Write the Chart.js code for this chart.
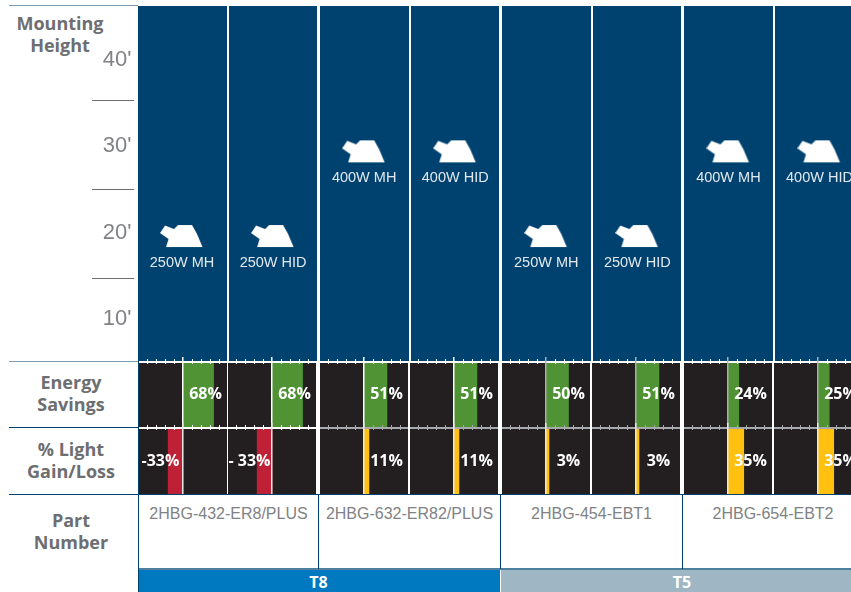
<!DOCTYPE html>
<html>
<head>
<meta charset="utf-8">
<script src="https://cdn.jsdelivr.net/npm/chart.js@4"></script>
<style>
  html, body { margin: 0; background: #fff; }
  body { width: 851px; height: 592px; overflow: hidden; position: relative; font-family: "Open Sans", sans-serif; }
  canvas, .box, .head, .part, .band { position: absolute; }
  .head { color: #6d6e71; font-weight: 700; font-size: 18px; line-height: 22px; text-align: center; width: 130px; }
  .part { color: #808285; font: 16px "Liberation Sans", sans-serif; text-align: center; }
  .band { height: 22px; line-height: 25px; color: #fff; font-weight: 700; font-size: 16px; text-align: center; }
</style>
</head>
<body>
<script>
var fixtureLabels = ['250W MH', '250W HID', '400W MH', '400W HID', '250W MH', '250W HID', '400W MH', '400W HID'];
var mountHeights = [19.6, 19.6, 29.4, 29.4, 19.6, 19.6, 29.4, 29.4];
var heightTicks = [10, 20, 30, 40];
var heightDividers = [35.3, 25, 14.7];
var energySavings = [68, 68, 51, 51, 50, 51, 24, 25];
var lightChange = [-33, -33, 11, 11, 3, 3, 35, 35];
var lightLabels = ['-33%', '- 33%', '11%', '11%', '3%', '3%', '35%', '35%'];
var percentTicks = [-80, -60, -40, -20, 0, 20, 40, 60, 80];
var partNumbers = ['2HBG-432-ER8/PLUS', '2HBG-632-ER82/PLUS', '2HBG-454-EBT1', '2HBG-654-EBT2'];
var lampTypes = ['T8', 'T5'];

var cellLefts = [139, 228, 320, 410, 502, 592, 684, 774];
var partEdges = [139, 319, 501, 683, 864];
var bandEdges = [139, 501, 866];
var bandColors = ['#0079c1', '#9fb6c4'];

function addBox(x, y, w, h, color) {
  var d = document.createElement('div');
  d.className = 'box';
  d.style.cssText = 'left:' + x + 'px;top:' + y + 'px;width:' + w + 'px;height:' + h + 'px;background:' + color;
  document.body.appendChild(d);
}

function addText(cls, x, y, w, html) {
  var d = document.createElement('div');
  d.className = cls;
  d.style.left = x + 'px';
  d.style.top = y + 'px';
  if (w) d.style.width = w + 'px';
  d.innerHTML = html;
  document.body.appendChild(d);
}

function addCanvas(x, y, w, h) {
  var c = document.createElement('canvas');
  c.width = w;
  c.height = h;
  c.style.left = x + 'px';
  c.style.top = y + 'px';
  c.style.width = w + 'px';
  c.style.height = h + 'px';
  document.body.appendChild(c);
  return c;
}

// table furniture
addBox(138, 6, 730, 355, '#00426f');
addBox(9, 5, 129, 1, '#7d9cb3');
addBox(9, 361, 129, 1, '#7d9cb3');
addBox(9, 427, 129, 1, '#00426f');
addBox(9, 494, 842, 1, '#00426f');
addBox(138, 361, 1, 231, '#00426f');
addBox(139, 568, 712, 2, '#4f7f9f');

addText('head', -5, 12, 0, 'Mounting<br>Height');
addText('head', 6, 371, 0, 'Energy<br>Savings');
addText('head', 6, 438, 0, '% Light<br>Gain/Loss');
addText('head', 6, 509, 0, 'Part<br>Number');

partNumbers.forEach(function(p, i) {
  addText('part', partEdges[i], 505, partEdges[i + 1] - partEdges[i] - 1, p);
  if (i > 0) addBox(partEdges[i] - 1, 495, 1, 74, '#00426f');
});

lampTypes.forEach(function(t, i) {
  addBox(bandEdges[i], 570, bandEdges[i + 1] - bandEdges[i] - (i == 0 ? 1 : 0), 22, bandColors[i]);
  addText('band', bandEdges[i], 570, i == 0 ? 359 : 362, t);
});

// fixture icon used as the point style
var icon = document.createElement('canvas');
icon.width = 44;
icon.height = 24;
var ic = icon.getContext('2d');
var iconShape = [[0, 9], [5, 1.5], [14, 5], [18, 1], [32, 1], [37, 10], [42.5, 23], [6, 23], [8.5, 15]];
ic.fillStyle = '#fff';
ic.beginPath();
iconShape.forEach(function(p, i) {
  if (i == 0) ic.moveTo(p[0], p[1]); else ic.lineTo(p[0], p[1]);
});
ic.closePath();
ic.fill();

var fixtureText = {
  id: 'fixtureText',
  afterDatasetsDraw: function(chart) {
    var c = chart.ctx, meta = chart.getDatasetMeta(0), y = chart.scales.y;
    c.save();
    c.fillStyle = '#e1e8ee';
    c.font = '14.5px "Liberation Sans"';
    c.textAlign = 'center';
    c.textBaseline = 'middle';
    meta.data.forEach(function(pt, i) {
      c.fillText(fixtureLabels[i], pt.x, pt.y + 27);
    });
    // short dividers between the height labels
    c.fillStyle = '#6d6e71';
    heightDividers.forEach(function(h) {
      c.fillRect(92, Math.round(y.getPixelForValue(h)), 42, 1);
    });
    c.restore();
  }
};

new Chart(addCanvas(0, 0, 865, 361), {
  type: 'line',
  data: {
    labels: fixtureLabels,
    datasets: [{
      data: mountHeights,
      showLine: false,
      pointStyle: icon,
      clip: false
    }]
  },
  plugins: [fixtureText],
  options: {
    responsive: false,
    animation: false,
    layout: { autoPadding: false, padding: { top: 6 } },
    plugins: { legend: { display: false }, tooltip: { enabled: false } },
    scales: {
      x: {
        type: 'category',
        offset: true,
        border: { display: false },
        grid: {
          offset: true,
          drawTicks: false,
          color: function(ctx) { return ctx.index == 0 ? 'rgba(0,0,0,0)' : '#fff'; },
          lineWidth: function(ctx) { return ctx.index % 2 == 0 ? 3 : 2; }
        },
        ticks: { display: false },
        afterFit: function(s) { s.height = 0; }
      },
      y: {
        min: 5.13,
        max: 46.23,
        border: { display: false },
        grid: { display: false, drawTicks: false },
        afterBuildTicks: function(s) {
          s.ticks = heightTicks.map(function(v) { return { value: v }; });
        },
        afterFit: function(s) {
          s.width = 136.5;
          s.paddingTop = 0;
          s.paddingBottom = 0;
        },
        ticks: {
          padding: 5,
          color: '#808285',
          font: { family: '"Liberation Sans"', size: 22 },
          callback: function(v) { return v + "'"; }
        }
      }
    }
  }
});

// one small bar chart per cell, x axis runs about -100%..100% of the cell
var cellPlugin = {
  id: 'cellPlugin',
  beforeDraw: function(chart) {
    var a = chart.chartArea, c = chart.ctx;
    c.save();
    c.fillStyle = '#231f20';
    c.fillRect(a.left, a.top, a.right - a.left, a.bottom - a.top);
    c.restore();
  },
  afterDatasetsDraw: function(chart, args, opts) {
    var a = chart.chartArea, c = chart.ctx, x = chart.scales.x;
    c.save();
    c.fillStyle = opts.lineColor;
    c.fillRect(a.left, a.top - 1, a.right - a.left, 2);
    percentTicks.forEach(function(v) {
      var px = Math.round(x.getPixelForValue(v));
      if (v == 0) {
        c.fillStyle = opts.zeroColor;
        c.fillRect(px - 1, a.top - 5, 1.5, a.bottom - a.top + 5);
      } else {
        c.fillStyle = opts.lineColor;
        c.fillRect(px, a.top - 3, 1, 5);
      }
    });
    c.fillStyle = '#fff';
    c.font = '700 16px "Open Sans"';
    c.textAlign = 'center';
    c.textBaseline = 'middle';
    c.fillText(opts.text, x.getPixelForValue(opts.value < 0 ? -50 : 50), (a.top + a.bottom) / 2);
    c.restore();
  }
};

function cellChart(left, top, height, value, text, color, lineColor, zeroColor) {
  var w = 88;
  new Chart(addCanvas(left, top - 5, w, height + 5), {
    type: 'bar',
    data: {
      labels: [''],
      datasets: [{
        data: [value],
        backgroundColor: color,
        barPercentage: 1,
        categoryPercentage: 1,
        minBarLength: 3
      }]
    },
    plugins: [cellPlugin],
    options: {
      indexAxis: 'y',
      responsive: false,
      animation: false,
      layout: { autoPadding: false, padding: { top: 5 } },
      plugins: {
        legend: { display: false },
        tooltip: { enabled: false },
        cellPlugin: { text: text, value: value, lineColor: lineColor, zeroColor: zeroColor }
      },
      scales: {
        x: { display: false, min: -97.8, max: 97.8 },
        y: { display: false }
      }
    }
  });
}

cellLefts.forEach(function(left, i) {
  cellChart(left, 362, 65, energySavings[i], energySavings[i] + '%', '#4f9334',
    '#ffffff', i < 4 ? '#ffffff' : '#a9b0a8');
  cellChart(left, 428, 66, lightChange[i], lightLabels[i], lightChange[i] < 0 ? '#be2036' : '#ffc010',
    i < 2 ? '#ffffff' : '#a7a9ac', '#e8e8e8');
});
</script>
</body>
</html>
